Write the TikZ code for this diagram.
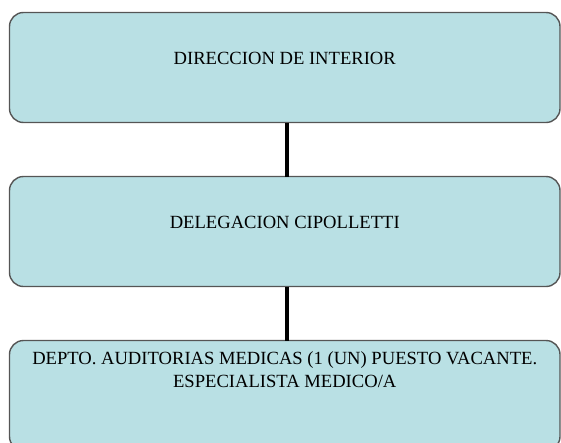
\documentclass[tikz,border=0pt]{standalone}
\usepackage{fontspec}
\setmainfont{Liberation Serif}
\usetikzlibrary{positioning}
\definecolor{cajafondo}{RGB}{185,224,228}
\definecolor{cajaborde}{RGB}{85,85,85}

\begin{document}
\begin{tikzpicture}[x=1pt,y=1pt,
caja/.style={draw=cajaborde, line width=1.4pt, fill=cajafondo, rounded corners=14pt,
  minimum width=550.5pt, minimum height=110pt, inner sep=0pt, outer sep=0pt},
textocaja/.style={anchor=north, inner sep=0pt, align=center, font=\fontsize{18.6}{23}\selectfont},
linea/.style={line width=3.8pt}]
\useasboundingbox (0,0) rectangle (561,-442);
\node[caja, anchor=north west, label={[textocaja, yshift=-39.5pt]north:{DIRECCION DE INTERIOR}}]
  (direccion) at (9.5,-12.5) {};
\node[caja, below=54pt of direccion, label={[textocaja, yshift=-39.5pt]north:{DELEGACION CIPOLLETTI}}]
  (delegacion) {};
\node[caja, below=54pt of delegacion, label={[textocaja, yshift=-10.5pt]north:{DEPTO. AUDITORIAS MEDICAS (1 (UN) PUESTO VACANTE.\\ ESPECIALISTA MEDICO/A}}]
  (auditorias) {};
\draw[linea] ([xshift=2pt]direccion.south) -- ([xshift=2pt]delegacion.north);
\draw[linea] ([xshift=2pt]delegacion.south) -- ([xshift=2pt]auditorias.north);
\end{tikzpicture}
\end{document}
